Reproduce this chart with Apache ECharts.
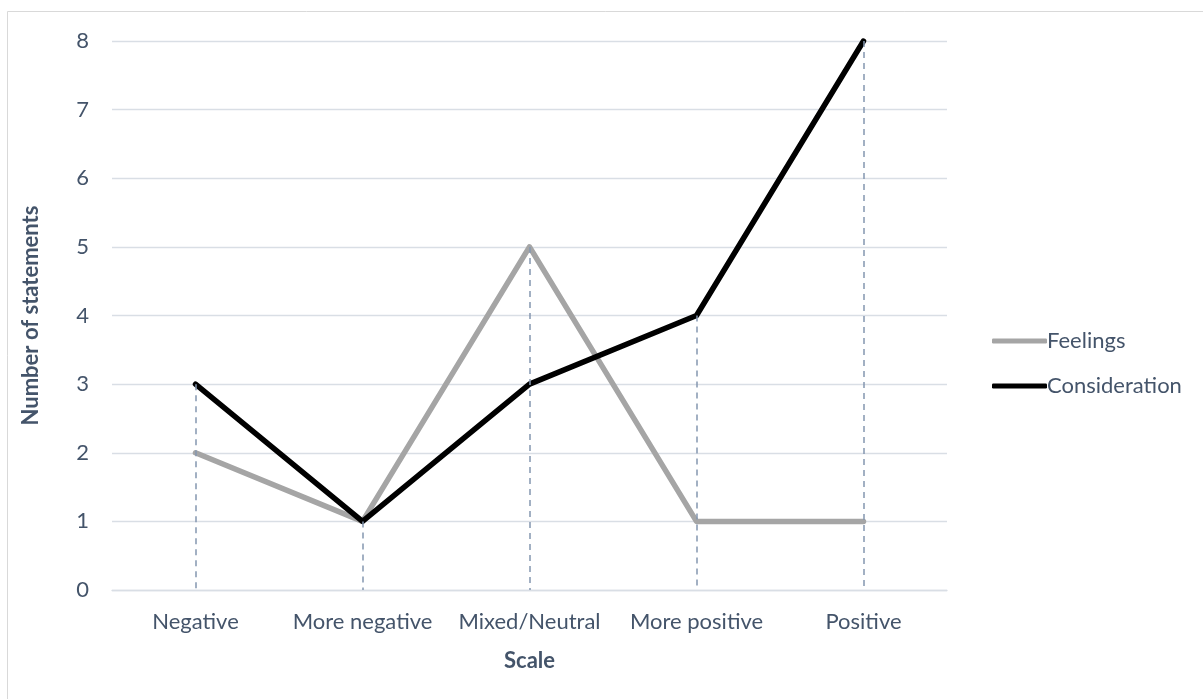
<!DOCTYPE html>
<html>
<head>
<meta charset="utf-8">
<script src="https://cdn.jsdelivr.net/npm/echarts@6/dist/echarts.min.js"></script>
<style>
  html, body { margin: 0; padding: 0; background: #ffffff; }
  #chart { width: 1203px; height: 699px; }
</style>
</head>
<body>
<div id="chart"></div>
<script>
// Response scale categories and statement counts per group
const categories = ['Negative', 'More negative', 'Mixed/Neutral', 'More positive', 'Positive'];
const feelings = [2, 1, 5, 1, 1];
const consideration = [3, 1, 3, 4, 8];
const yTicks = [0, 1, 2, 3, 4, 5, 6, 7, 8];

const textColor = '#44546A';
const fontFamily = 'Lato, "Noto Sans", sans-serif';
const fontSize = 22;

// Drop lines: from the highest point at each category down to the axis
const dropLines = categories.map((c, i) => [
  { coord: [c, Math.max(feelings[i], consideration[i])] },
  { coord: [c, 0] }
]);

const chart = echarts.init(document.getElementById('chart'), null, { renderer: 'canvas' });

chart.setOption({
  backgroundColor: '#ffffff',
  animation: false,
  textStyle: { fontFamily: fontFamily },
  graphic: [{
    type: 'rect',
    shape: { x: 7.5, y: 11.5, width: 1300, height: 800 },
    style: { fill: 'none', stroke: '#D9D9D9', lineWidth: 1 },
    silent: true,
    z: -10
  }],
  grid: { left: 112, right: 256, top: 41, bottom: 109 },
  legend: {
    orient: 'vertical',
    left: 987,
    top: 325,
    itemWidth: 55,
    itemHeight: 5,
    itemGap: 23,
    data: [
      { name: 'Feelings', icon: 'roundRect' },
      { name: 'Consideration', icon: 'roundRect' }
    ],
    textStyle: { color: textColor, fontSize: fontSize, lineHeight: 22, fontFamily: fontFamily, padding: [0, 0, 0, -5] }
  },
  xAxis: {
    type: 'category',
    data: categories,
    boundaryGap: true,
    name: 'Scale',
    nameLocation: 'middle',
    nameGap: 60,
    nameTextStyle: { color: textColor, fontSize: fontSize, fontWeight: 'bold', fontFamily: fontFamily },
    axisLine: { show: true, lineStyle: { color: '#D9DEE5', width: 1.3 } },
    axisTick: { show: false },
    axisLabel: { interval: 0, hideOverlap: false, color: textColor, fontSize: fontSize, margin: 21, fontFamily: fontFamily },
    splitLine: { show: false }
  },
  yAxis: {
    type: 'value',
    min: yTicks[0],
    max: yTicks[yTicks.length - 1],
    interval: 1,
    name: 'Number of statements',
    nameLocation: 'middle',
    nameGap: 70,
    nameRotate: 90,
    nameTextStyle: { color: textColor, fontSize: fontSize, fontWeight: 'bold', fontFamily: fontFamily },
    axisLine: { show: false },
    axisTick: { show: false },
    axisLabel: { color: textColor, fontSize: fontSize, margin: 23, fontFamily: fontFamily },
    splitLine: { show: true, lineStyle: { color: '#D9DEE5', width: 1.3 } }
  },
  series: [
    {
      name: 'drop',
      type: 'line',
      data: [],
      silent: true,
      z: 1,
      markLine: {
        silent: true,
        symbol: ['none', 'none'],
        label: { show: false },
        lineStyle: { color: '#8497B0', type: [6, 5], width: 1.5 },
        data: dropLines
      }
    },
    {
      name: 'Feelings',
      type: 'line',
      data: feelings,
      symbol: 'none',
      z: 3,
      color: '#A5A5A5',
      lineStyle: { color: '#A5A5A5', width: 5.5, cap: 'round', join: 'round' }
    },
    {
      name: 'Consideration',
      type: 'line',
      data: consideration,
      symbol: 'none',
      z: 4,
      color: '#000000',
      lineStyle: { color: '#000000', width: 5.5, cap: 'round', join: 'round' }
    }
  ]
});
</script>
</body>
</html>
